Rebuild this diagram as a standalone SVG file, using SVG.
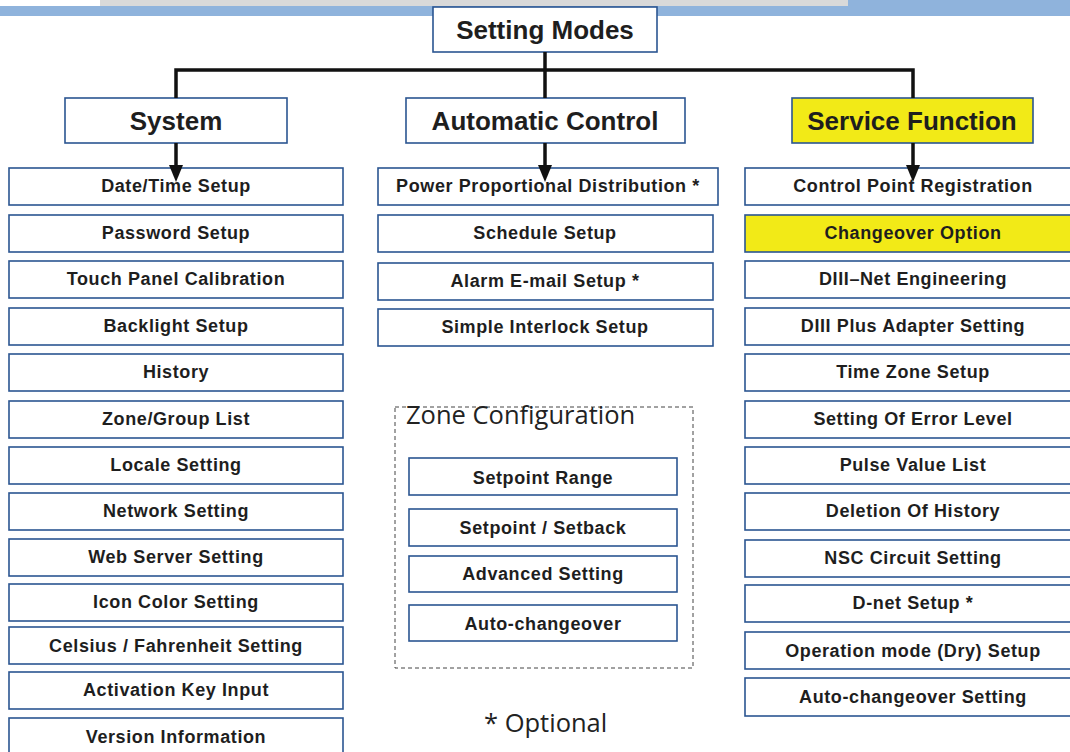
<svg xmlns="http://www.w3.org/2000/svg" width="1070" height="752" viewBox="0 0 1070 752">
<style>
.bx{fill:#fff;stroke:#2b5591;stroke-width:1.6}
.yl{fill:#f2ea17}
.it{font-family:"Liberation Sans",Arial,sans-serif;font-weight:bold;font-size:18px;letter-spacing:0.6px;fill:#1e1e1e;text-anchor:middle}
.hd{font-family:"Liberation Sans",Arial,sans-serif;font-weight:bold;font-size:26px;fill:#1e1e1e;text-anchor:middle}
.ln{stroke:#111;stroke-width:3.5;fill:none}
.ah{fill:#111}
.cal{font-family:"Open Sans",sans-serif;font-size:25.5px;fill:#222}
</style>
<rect x="0" y="0" width="1070" height="752" fill="#fff"/>
<rect x="100" y="0" width="750" height="7" fill="#d9d9d9"/>
<rect x="0" y="6" width="1070" height="10" fill="#8fb3dc"/>
<rect x="848" y="0" width="222" height="16" fill="#8fb3dc"/>

<g id="setting-modes"><rect class="bx" x="433" y="7" width="224" height="45"/><text class="hd" x="545" y="39" font-size="25">Setting Modes</text></g>
<g id="system"><rect class="bx" x="65" y="98" width="222" height="45"/><text class="hd" x="176" y="130">System</text></g>
<g id="automatic-control"><rect class="bx" x="406" y="98" width="279" height="45"/><text class="hd" x="545" y="130">Automatic Control</text></g>
<g id="service-function"><rect class="bx yl" x="792" y="98" width="241" height="45"/><text class="hd" x="912" y="130">Service Function</text></g>

<g id="sys-items">
<g id="s1"><rect class="bx" x="9" y="168" width="334" height="37"/><text class="it" x="176" y="192">Date/Time Setup</text></g>
<g id="s2"><rect class="bx" x="9" y="215" width="334" height="37"/><text class="it" x="176" y="239">Password Setup</text></g>
<g id="s3"><rect class="bx" x="9" y="261" width="334" height="37"/><text class="it" x="176" y="285">Touch Panel Calibration</text></g>
<g id="s4"><rect class="bx" x="9" y="308" width="334" height="37"/><text class="it" x="176" y="332">Backlight Setup</text></g>
<g id="s5"><rect class="bx" x="9" y="354" width="334" height="37"/><text class="it" x="176" y="378">History</text></g>
<g id="s6"><rect class="bx" x="9" y="401" width="334" height="37"/><text class="it" x="176" y="425">Zone/Group List</text></g>
<g id="s7"><rect class="bx" x="9" y="447" width="334" height="37"/><text class="it" x="176" y="471">Locale Setting</text></g>
<g id="s8"><rect class="bx" x="9" y="493" width="334" height="37"/><text class="it" x="176" y="517">Network Setting</text></g>
<g id="s9"><rect class="bx" x="9" y="539" width="334" height="37"/><text class="it" x="176" y="563">Web Server Setting</text></g>
<g id="s10"><rect class="bx" x="9" y="584" width="334" height="37"/><text class="it" x="176" y="608">Icon Color Setting</text></g>
<g id="s11"><rect class="bx" x="9" y="627" width="334" height="37"/><text class="it" x="176" y="652">Celsius / Fahrenheit Setting</text></g>
<g id="s12"><rect class="bx" x="9" y="672" width="334" height="37"/><text class="it" x="176" y="696">Activation Key Input</text></g>
<g id="s13"><rect class="bx" x="9" y="718" width="334" height="40"/><text class="it" x="176" y="743">Version Information</text></g>
</g>

<g id="auto-items">
<g id="a1"><rect class="bx" x="378" y="168" width="340" height="37"/><text class="it" x="548" y="192">Power Proportional Distribution *</text></g>
<g id="a2"><rect class="bx" x="378" y="215" width="335" height="37"/><text class="it" x="545" y="239">Schedule Setup</text></g>
<g id="a3"><rect class="bx" x="378" y="263" width="335" height="37"/><text class="it" x="545" y="287">Alarm E-mail Setup *</text></g>
<g id="a4"><rect class="bx" x="378" y="309" width="335" height="37"/><text class="it" x="545" y="333">Simple Interlock Setup</text></g>
</g>

<g id="zone-config">
<rect x="395" y="407" width="298" height="261" fill="none" stroke="#444" stroke-width="1" stroke-dasharray="4,3"/>
<text class="cal" x="406" y="424">Zone Configuration</text>
<g id="z1"><rect class="bx" x="409" y="458" width="268" height="37"/><text class="it" x="543" y="484">Setpoint Range</text></g>
<g id="z2"><rect class="bx" x="409" y="509" width="268" height="37"/><text class="it" x="543" y="534">Setpoint / Setback</text></g>
<g id="z3"><rect class="bx" x="409" y="556" width="268" height="36"/><text class="it" x="543" y="580">Advanced Setting</text></g>
<g id="z4"><rect class="bx" x="409" y="605" width="268" height="36"/><text class="it" x="543" y="630">Auto-changeover</text></g>
</g>

<text id="optional" class="cal" x="484" y="732" font-size="28">* Optional</text>

<g id="svc-items">
<g id="f1"><rect class="bx" x="745" y="168" width="340" height="37"/><text class="it" x="913" y="192">Control Point Registration</text></g>
<g id="f2"><rect class="bx yl" x="745" y="215" width="340" height="37"/><text class="it" x="913" y="239">Changeover Option</text></g>
<g id="f3"><rect class="bx" x="745" y="261" width="340" height="37"/><text class="it" x="913" y="285">DIII–Net Engineering</text></g>
<g id="f4"><rect class="bx" x="745" y="308" width="340" height="37"/><text class="it" x="913" y="332">DIII Plus Adapter Setting</text></g>
<g id="f5"><rect class="bx" x="745" y="354" width="340" height="37"/><text class="it" x="913" y="378">Time Zone Setup</text></g>
<g id="f6"><rect class="bx" x="745" y="401" width="340" height="37"/><text class="it" x="913" y="425">Setting Of Error Level</text></g>
<g id="f7"><rect class="bx" x="745" y="447" width="340" height="37"/><text class="it" x="913" y="471">Pulse Value List</text></g>
<g id="f8"><rect class="bx" x="745" y="493" width="340" height="37"/><text class="it" x="913" y="517">Deletion Of History</text></g>
<g id="f9"><rect class="bx" x="745" y="540" width="340" height="37"/><text class="it" x="913" y="564">NSC Circuit Setting</text></g>
<g id="f10"><rect class="bx" x="745" y="585" width="340" height="37"/><text class="it" x="913" y="609">D-net Setup *</text></g>
<g id="f11"><rect class="bx" x="745" y="632" width="340" height="37"/><text class="it" x="913" y="657">Operation mode (Dry) Setup</text></g>
<g id="f12"><rect class="bx" x="745" y="678" width="340" height="38"/><text class="it" x="913" y="703">Auto-changeover Setting</text></g>
</g>

<g id="connectors">
<path class="ln" d="M545,52 V70"/>
<path class="ln" d="M176,98 V70 H913 V98" stroke-width="4"/>
<path class="ln" d="M545,70 V98"/>
<path class="ln" d="M176,143 V166"/>
<path class="ln" d="M545,143 V166"/>
<path class="ln" d="M913,143 V166"/>
<path class="ah" d="M169,165 L183,165 L176,182 Z"/>
<path class="ah" d="M538,165 L552,165 L545,182 Z"/>
<path class="ah" d="M906,165 L920,165 L913,182 Z"/>
</g>
</svg>
